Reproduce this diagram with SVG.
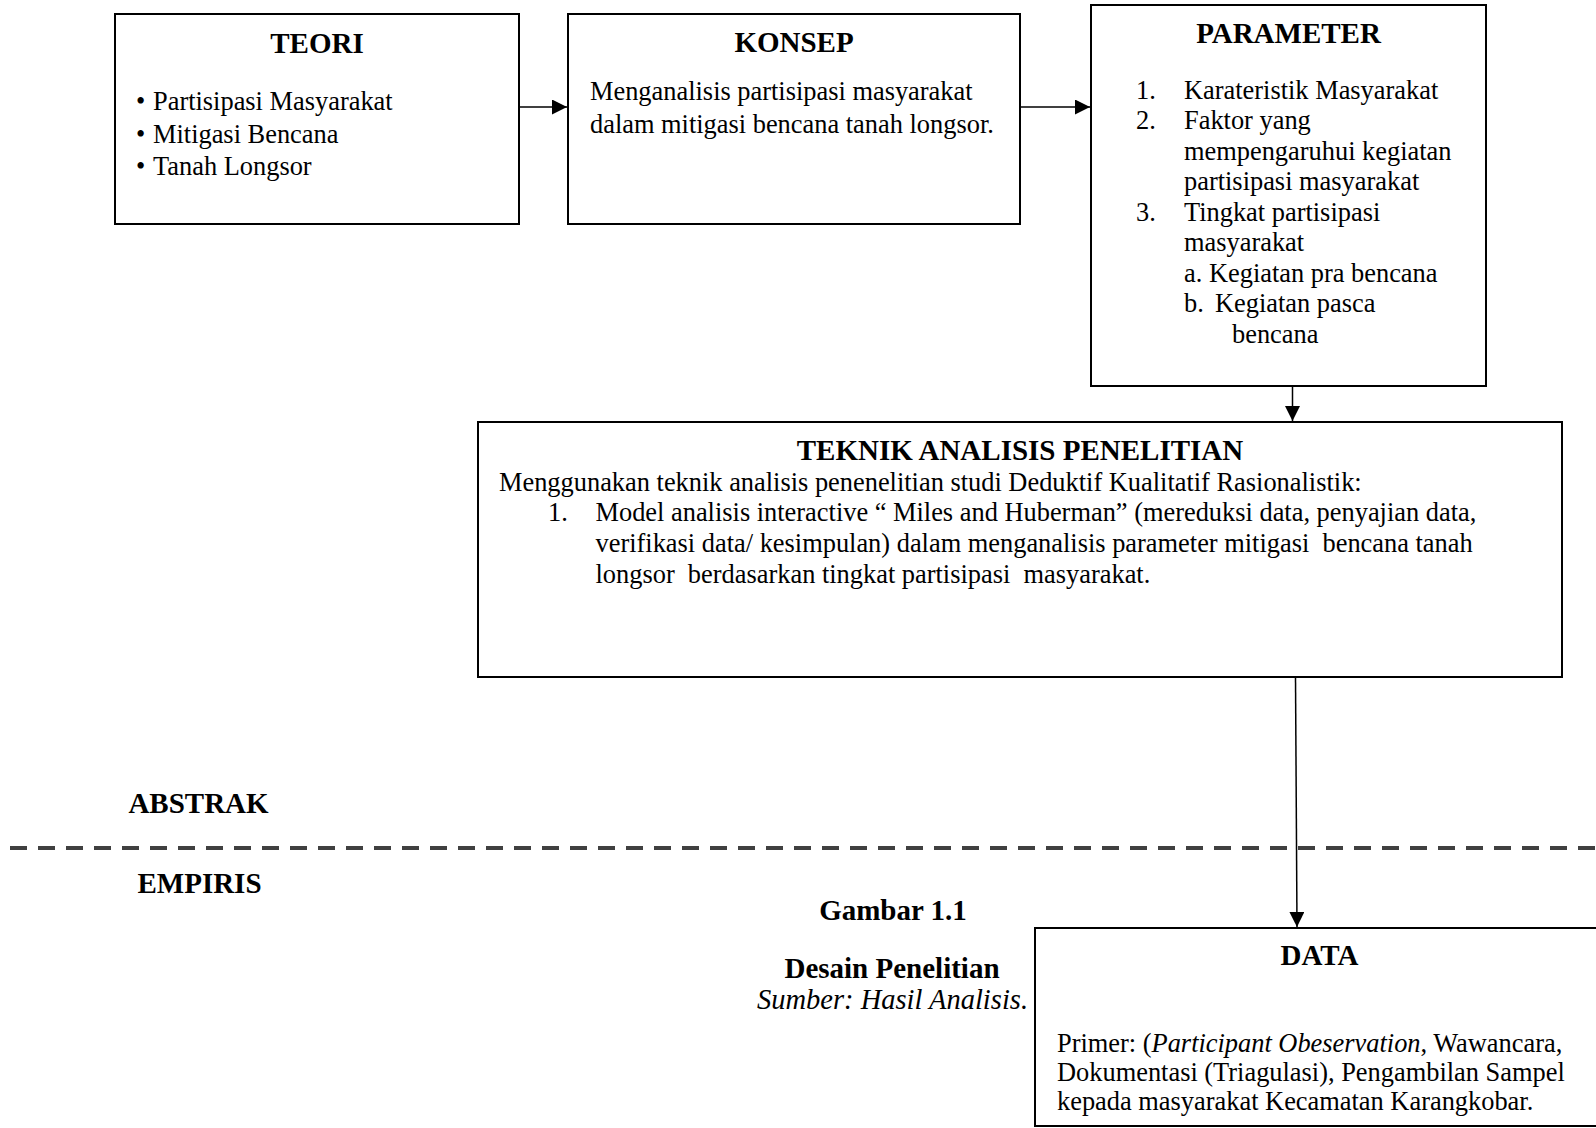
<svg xmlns="http://www.w3.org/2000/svg" width="1596" height="1128" viewBox="0 0 1596 1128">
<defs>
<style>
.box{fill:#fff;stroke:#000;stroke-width:2}
.t{font-family:"Liberation Serif","Times New Roman",serif;fill:#000}
.h{font-size:29px;font-weight:bold;text-anchor:middle}
.b{font-size:26.4px}
.i{font-style:italic}
.con{stroke:#000;stroke-width:1.5;fill:none}
.dash{stroke:#404040;stroke-width:4;stroke-dasharray:17 11;fill:none}
</style>
<marker id="ah" viewBox="0 0 10 10" refX="10" refY="5" markerWidth="15" markerHeight="15" markerUnits="userSpaceOnUse" orient="auto">
<path d="M0,0 L10,5 L0,10 Z" fill="#000"/>
</marker>
</defs>
<rect width="1596" height="1128" fill="#fff"/>

<g id="teori">
<rect class="box" x="115" y="14" width="404" height="210"/>
<text class="t h" x="317" y="53">TEORI</text>
<text class="t b" x="136" y="110">•</text>
<text class="t b" x="153" y="110">Partisipasi Masyarakat</text>
<text class="t b" x="136" y="143">•</text>
<text class="t b" x="153" y="143">Mitigasi Bencana</text>
<text class="t b" x="136" y="175">•</text>
<text class="t b" x="153" y="175">Tanah Longsor</text>
</g>

<g id="konsep">
<rect class="box" x="568" y="14" width="452" height="210"/>
<text class="t h" x="794" y="52">KONSEP</text>
<text class="t b" x="590" y="100">Menganalisis partisipasi masyarakat</text>
<text class="t b" x="590" y="133">dalam mitigasi bencana tanah longsor.</text>
</g>

<g id="parameter">
<rect class="box" x="1091" y="5" width="395" height="381"/>
<text class="t h" x="1288.5" y="43">PARAMETER</text>
<text class="t b" x="1136" y="99">1.</text>
<text class="t b" x="1184" y="99">Karateristik Masyarakat</text>
<text class="t b" x="1136" y="129">2.</text>
<text class="t b" x="1184" y="129">Faktor yang</text>
<text class="t b" x="1184" y="160">mempengaruhui kegiatan</text>
<text class="t b" x="1184" y="190">partisipasi masyarakat</text>
<text class="t b" x="1136" y="221">3.</text>
<text class="t b" x="1184" y="221">Tingkat partisipasi</text>
<text class="t b" x="1184" y="251">masyarakat</text>
<text class="t b" x="1184" y="282">a. Kegiatan pra bencana</text>
<text class="t b" x="1184" y="312">b.</text>
<text class="t b" x="1215" y="312">Kegiatan pasca</text>
<text class="t b" x="1232" y="343">bencana</text>
</g>

<g id="teknik">
<rect class="box" x="478" y="422" width="1084" height="255"/>
<text class="t h" x="1020" y="460">TEKNIK ANALISIS PENELITIAN</text>
<text class="t b" x="499" y="491">Menggunakan teknik analisis penenelitian studi Deduktif Kualitatif Rasionalistik:</text>
<text class="t b" x="548" y="521">1.</text>
<text class="t b" x="595.5" y="521">Model analisis interactive “ Miles and Huberman” (mereduksi data, penyajian data,</text>
<text class="t b" x="595.5" y="552" xml:space="preserve">verifikasi data/ kesimpulan) dalam menganalisis parameter mitigasi  bencana tanah</text>
<text class="t b" x="595.5" y="583" xml:space="preserve">longsor  berdasarkan tingkat partisipasi  masyarakat.</text>
</g>

<g id="data">
<rect class="box" x="1035" y="928" width="580" height="198"/>
<text class="t h" x="1319.5" y="965">DATA</text>
<text class="t b" x="1057" y="1052">Primer: (<tspan class="i">Participant Obeservation</tspan>, Wawancara,</text>
<text class="t b" x="1057" y="1081">Dokumentasi (Triagulasi), Pengambilan Sampel</text>
<text class="t b" x="1057" y="1110">kepada masyarakat Kecamatan Karangkobar.</text>
</g>

<g id="labels">
<text class="t h" x="198.5" y="813">ABSTRAK</text>
<text class="t h" x="199.5" y="893">EMPIRIS</text>
<text class="t h" x="893" y="920">Gambar 1.1</text>
<text class="t h" x="892" y="978">Desain Penelitian</text>
<text class="t i" style="font-size:28.5px;text-anchor:middle" x="892.5" y="1009">Sumber: Hasil Analisis.</text>
</g>

<line class="dash" x1="10" y1="848" x2="1596" y2="848"/>

<g id="connectors">
<line class="con" x1="519" y1="107" x2="567" y2="107" marker-end="url(#ah)"/>
<line class="con" x1="1020" y1="107" x2="1090" y2="107" marker-end="url(#ah)"/>
<line class="con" x1="1292.5" y1="386" x2="1292.5" y2="421" marker-end="url(#ah)"/>
<line class="con" x1="1295.5" y1="677" x2="1297" y2="927" marker-end="url(#ah)"/>
</g>
</svg>
